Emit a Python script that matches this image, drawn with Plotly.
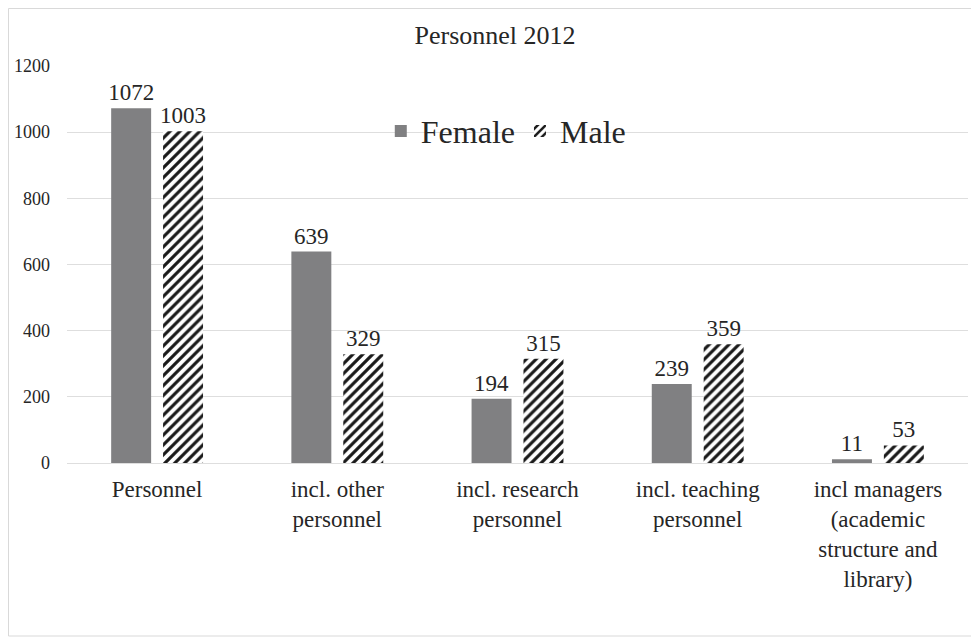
import plotly.graph_objects as go

categories = ["Personnel", "incl. other<br>personnel", "incl. research<br>personnel",
              "incl. teaching<br>personnel", "incl managers<br>(academic<br>structure and<br>library)"]
female = [1072, 639, 194, 239, 11]
male = [1003, 329, 315, 359, 53]
y_ticks = [0, 200, 400, 600, 800, 1000, 1200]

FONT = "Liberation Serif"
TXT = "#262626"

# page body adds an 8px margin; figure is sized to compensate
W, H = 971, 633
L, T = 59, 58
PLOT_W, PLOT_H = 901, 397

fig = go.Figure()
fig.add_trace(go.Bar(
    x=categories, y=female, name="Female",
    marker=dict(color="#808082", line=dict(width=0)),
    text=[str(v) for v in female], textposition="outside",
    textfont=dict(size=23, color=TXT, family=FONT),
    constraintext="none", cliponaxis=False,
))
fig.add_trace(go.Bar(
    x=categories, y=male, name="Male",
    marker=dict(color="white", line=dict(width=0),
                pattern=dict(shape="/", fgcolor="#1a1a1a", bgcolor="white",
                             size=7, solidity=0.45, fillmode="replace")),
    text=[str(v) for v in male], textposition="outside",
    textfont=dict(size=23, color=TXT, family=FONT),
    constraintext="none", cliponaxis=False,
))

fig.update_layout(
    width=W, height=H,
    paper_bgcolor="white", plot_bgcolor="white",
    margin=dict(l=L, r=W - L - PLOT_W, t=T, b=H - T - PLOT_H, autoexpand=False),
    font=dict(family=FONT, color=TXT),
    title=dict(text="Personnel 2012", x=(495 - 8) / W, xanchor="center",
               y=1 - 27 / H, yanchor="middle",
               font=dict(size=26, family=FONT, color=TXT)),
    barmode="group", bargap=0.424, bargroupgap=0.23,
    showlegend=True,
    legend=dict(orientation="h", x=0.487, xanchor="center", y=0.836, yanchor="middle",
                font=dict(size=32, family=FONT, color=TXT),
                bgcolor="rgba(0,0,0,0)", itemsizing="constant"),
    xaxis=dict(showgrid=False, showline=False, ticks="", automargin=False,
               tickfont=dict(size=23, family=FONT, color=TXT),
               ticklabelstandoff=10),
    yaxis=dict(range=[0, 1200], tickvals=y_ticks, showgrid=True, automargin=False,
               gridcolor="#dedede", gridwidth=1, zeroline=True,
               zerolinecolor="#dedede", zerolinewidth=1, showline=False, ticks="",
               tickfont=dict(size=18, family=FONT, color=TXT),
               ticklabelstandoff=16),
    shapes=[dict(type="rect", xref="paper", yref="paper",
                 x0=(0.5 - L) / PLOT_W, x1=(967 - L) / PLOT_W,
                 y0=-(628 - T - PLOT_H) / PLOT_H, y1=(T + PLOT_H - 0.5) / PLOT_H,
                 line=dict(color="#d9d9d9", width=1), fillcolor="rgba(0,0,0,0)",
                 layer="below")],
)

fig.write_html("out.html")
